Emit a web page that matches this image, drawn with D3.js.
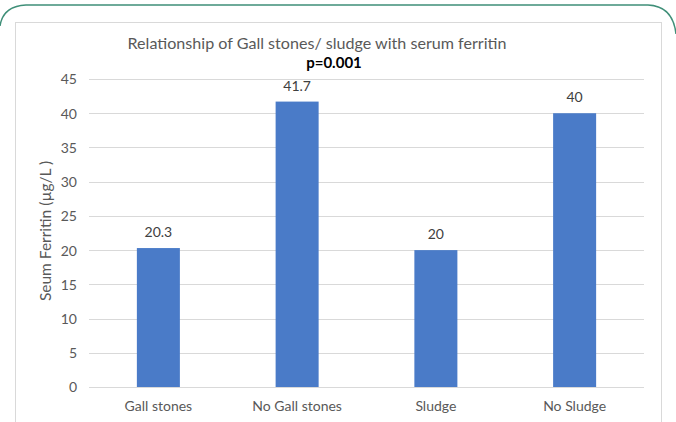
<!DOCTYPE html>
<html><head><meta charset="utf-8">
<script src="https://cdn.jsdelivr.net/npm/d3@7"></script>
<style>body{margin:0;background:#fff;}svg{display:block;font-family:Lato,"Open Sans",sans-serif;}</style>
</head><body>
<script>
const categories = ["Gall stones","No Gall stones","Sludge","No Sludge"];
const values = [20.3, 41.7, 20, 40];
const valueLabels = ["20.3","41.7","20","40"];
const yTicks = [0,5,10,15,20,25,30,35,40,45];
const title = "Relationship of Gall stones/ sludge with serum ferritin";
const subtitle = "p=0.001";
const yTitle = "Seum Ferritin (µg/L )";

const W = 676, H = 422;
const svg = d3.select("body").append("svg").attr("width", W).attr("height", H);

// outer green frame
svg.append("path")
  .attr("d", "M0,26 Q3,6 26,5 L648,5 Q673,6 676,34")
  .attr("fill","none").attr("stroke","#3f8f78").attr("stroke-width",1.5);
// inner chart border
svg.append("rect").attr("x",15.5).attr("y",22.5).attr("width",646).attr("height",420)
  .attr("fill","#fff").attr("stroke","#d9d9d9").attr("stroke-width",1);

const x = d3.scaleBand().domain(categories).range([89, 644]).paddingInner(0.69).paddingOuter(0.345);
const y = d3.scaleLinear().domain([0,45]).range([387, 79]);

// gridlines
svg.append("g").selectAll("line").data(yTicks).join("line")
  .attr("x1",89).attr("x2",644)
  .attr("y1",d=>Math.round(y(d))+0.5).attr("y2",d=>Math.round(y(d))+0.5)
  .attr("stroke","#d9d9d9").attr("stroke-width",1);

// y axis ticks
const yAxis = d3.axisLeft(y).tickValues(yTicks).tickSize(0).tickPadding(0);
const gy = svg.append("g").attr("transform","translate(77,0)").call(yAxis);
gy.select(".domain").remove();
gy.selectAll("text").attr("fill","#595959").style("font-family","Lato").style("font-size","14px").attr("dy","0.35em");

// x axis
const xAxis = d3.axisBottom(x).tickSize(0).tickPadding(0);
const gx = svg.append("g").attr("transform","translate(0,401)").call(xAxis);
gx.select(".domain").remove();
gx.selectAll("text").attr("fill","#595959").style("font-family","Lato").style("font-size","14px").attr("dy","0.71em");

// bars
svg.append("g").selectAll("rect").data(values).join("rect")
  .attr("x",(d,i)=>x(categories[i])).attr("width",x.bandwidth())
  .attr("y",d=>y(d)).attr("height",d=>y(0)-y(d))
  .attr("fill","#4a7bc8");

// data labels
svg.append("g").selectAll("text").data(values).join("text")
  .attr("x",(d,i)=>x(categories[i])+x.bandwidth()/2)
  .attr("y",d=>y(d)-11)
  .attr("text-anchor","middle").attr("fill","#404040").style("font-size","14px")
  .text((d,i)=>valueLabels[i]);

// title
svg.append("text").attr("x",317).attr("y",49).attr("text-anchor","middle")
  .attr("fill","#595959").style("font-size","16.1px").text(title);
svg.append("text").attr("x",334).attr("y",68).attr("text-anchor","middle")
  .attr("fill","#000").style("font-size","15px").style("font-weight","bold").text(subtitle);

// y title
svg.append("text").attr("transform","translate(51,231) rotate(-90)").attr("text-anchor","middle")
  .attr("fill","#595959").style("font-size","15.5px").text(yTitle);
</script>
</body></html>
